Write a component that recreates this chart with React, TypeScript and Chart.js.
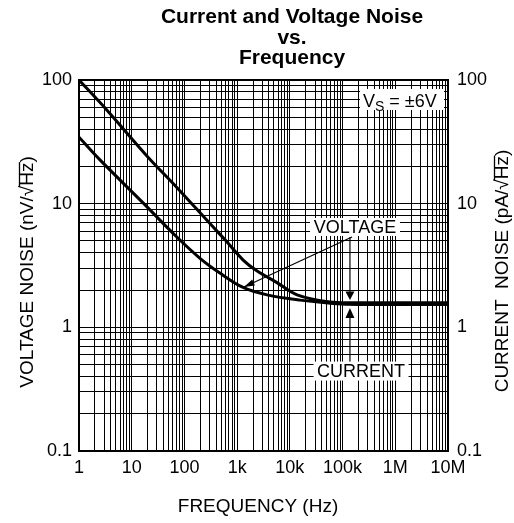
import React, { useEffect, useRef } from 'react';
import { Chart, registerables } from 'chart.js';

Chart.register(...registerables);

const titleLines = ['Current and Voltage Noise', 'vs.', 'Frequency'];
const xAxisTitle = 'FREQUENCY (Hz)';
const leftAxisTitle = ['VOLTAGE NOISE (nV/', '√', 'Hz', ')'];
const rightAxisTitle = ['CURRENT  NOISE (pA/', '√', 'Hz', ')'];

const xTickValues = [1, 10, 100, 1e3, 1e4, 1e5, 1e6, 1e7];
const xTickLabels = ['1', '10', '100', '1k', '10k', '100k', '1M', '10M'];
const yTickValues = [0.1, 1, 10, 100];
const yTickLabels = ['0.1', '1', '10', '100'];
const minorSteps = [2, 3, 4, 5, 6, 7, 8, 9];

// CURRENT noise (upper curve), pA/√Hz
const currentFreq = [1, 3.4, 20, 71, 305, 590, 1300, 2400, 5700, 13700, 58000, 200000, 1e7];
const currentNoise = [100, 57, 24, 13.6, 6.9, 5.1, 3.5, 2.85, 2.3, 1.83, 1.6, 1.58, 1.58];
// VOLTAGE noise (lower curve), nV/√Hz
const voltageFreq = [1, 2.5, 16.6, 71, 200, 470, 1300, 3700, 15600, 66000, 200000, 1e7];
const voltageNoise = [34.5, 22.6, 10.1, 5.4, 3.6, 2.75, 2.1, 1.83, 1.66, 1.56, 1.53, 1.53];

// annotation anchors (data coordinates)
const vsLabel = { text: ['V', 'S', ' = ±6V'], f: 2.14e5, v: 84.6 };
const voltageLabel = { text: 'VOLTAGE', f: 1.72e5, v: 6.48 };
const voltageArrow = { fromF: 1.51e5, fromV: 5.38, toF: 1350, toV: 2.12 };
const currentLabel = { text: 'CURRENT', f: 2.24e5, v: 0.443 };
const markerF = 1.38e5;
const markerDownV = [5.38, 1.664];
const markerUpV = [0.48, 1.433];

const FONT = 'Liberation Sans, Arial, Helvetica, sans-serif';

function buildLogTicks(values: number[]) {
  const out: { value: number; major: boolean }[] = [];
  for (let i = 0; i < values.length - 1; i++) {
    out.push({ value: values[i], major: true });
    for (const m of minorSteps) out.push({ value: values[i] * m, major: false });
  }
  out.push({ value: values[values.length - 1], major: true });
  return out;
}

function labelFor(values: number[], labels: string[], v: number) {
  for (let i = 0; i < values.length; i++) {
    if (Math.abs(Math.log10(values[i]) - Math.log10(v)) < 1e-6) return labels[i];
  }
  return '';
}

function drawBoxText(ctx: CanvasRenderingContext2D, text: string, cx: number, cy: number, w: number, h: number) {
  ctx.fillStyle = '#fff';
  ctx.fillRect(cx - w / 2, cy - h / 2, w, h);
  ctx.fillStyle = '#000';
  ctx.font = `18px ${FONT}`;
  ctx.textAlign = 'center';
  ctx.textBaseline = 'middle';
  ctx.fillText(text, cx, cy + 1);
}

function drawRotatedTitle(ctx: CanvasRenderingContext2D, parts: string[], cx: number, cy: number) {
  ctx.save();
  ctx.translate(cx, cy);
  ctx.rotate(-Math.PI / 2);
  ctx.font = `19px ${FONT}`;
  ctx.fillStyle = '#000';
  ctx.textBaseline = 'middle';
  ctx.textAlign = 'left';
  const widths = parts.map((p) => ctx.measureText(p).width);
  const total = widths.reduce((a, b) => a + b, 0);
  let x = -total / 2;
  const starts: number[] = [];
  parts.forEach((p, i) => {
    starts.push(x);
    ctx.fillText(p, x, 0);
    x += widths[i];
  });
  // overline of the radical over "Hz"
  ctx.strokeStyle = '#000';
  ctx.lineWidth = 1.3;
  ctx.beginPath();
  ctx.moveTo(starts[1] + widths[1] - 1, -8.5);
  ctx.lineTo(starts[2] + widths[2] + 0.5, -8.5);
  ctx.stroke();
  ctx.restore();
}

const overlayPlugin = {
  id: 'overlay',
  afterDatasetsDraw(chart: any) {
    const ctx: CanvasRenderingContext2D = chart.ctx;
    const xs = chart.scales.x;
    const ys = chart.scales.y;
    const X = (f: number) => xs.getPixelForValue(f);
    const Y = (v: number) => ys.getPixelForValue(v);
    ctx.save();

    // VS label
    {
      const left = X(vsLabel.f);
      const top = Y(vsLabel.v);
      ctx.fillStyle = '#fff';
      ctx.fillRect(left, top, 84, 21);
      ctx.fillStyle = '#000';
      ctx.textAlign = 'left';
      ctx.textBaseline = 'alphabetic';
      ctx.font = `18px ${FONT}`;
      let x = left + 3;
      const base = top + 18;
      ctx.fillText(vsLabel.text[0], x, base);
      x += ctx.measureText(vsLabel.text[0]).width;
      ctx.font = `14px ${FONT}`;
      ctx.fillText(vsLabel.text[1], x, base + 4);
      x += ctx.measureText(vsLabel.text[1]).width;
      ctx.font = `18px ${FONT}`;
      ctx.fillText(vsLabel.text[2], x, base);
    }

    ctx.strokeStyle = '#000';
    ctx.fillStyle = '#000';
    ctx.lineWidth = 1.2;

    // voltage arrow (diagonal)
    {
      const x1 = X(voltageArrow.fromF), y1 = Y(voltageArrow.fromV);
      const x2 = X(voltageArrow.toF), y2 = Y(voltageArrow.toV);
      ctx.beginPath();
      ctx.moveTo(x1, y1);
      ctx.lineTo(x2, y2);
      ctx.stroke();
      const ang = Math.atan2(y2 - y1, x2 - x1);
      const len = 11, spread = 0.3;
      ctx.beginPath();
      ctx.moveTo(x2 - len * Math.cos(ang - spread), y2 - len * Math.sin(ang - spread));
      ctx.lineTo(x2, y2);
      ctx.lineTo(x2 - len * Math.cos(ang + spread), y2 - len * Math.sin(ang + spread));
      ctx.closePath();
      ctx.fill();
    }

    // vertical markers pointing to the flat portion
    {
      const mx = X(markerF);
      const dTop = Y(markerDownV[0]);
      const dTip = Y(markerDownV[1]);
      ctx.beginPath();
      ctx.moveTo(mx, dTop);
      ctx.lineTo(mx, dTip - 6);
      ctx.stroke();
      ctx.beginPath();
      ctx.moveTo(mx - 4.5, dTip - 8.5);
      ctx.lineTo(mx + 4.5, dTip - 8.5);
      ctx.lineTo(mx, dTip);
      ctx.closePath();
      ctx.fill();

      const uBot = Y(markerUpV[0]);
      const uTip = Y(markerUpV[1]);
      ctx.beginPath();
      ctx.moveTo(mx, uBot);
      ctx.lineTo(mx, uTip + 6);
      ctx.stroke();
      ctx.beginPath();
      ctx.moveTo(mx - 4.5, uTip + 10);
      ctx.lineTo(mx + 4.5, uTip + 10);
      ctx.lineTo(mx, uTip);
      ctx.closePath();
      ctx.fill();
    }

    drawBoxText(ctx, voltageLabel.text, X(voltageLabel.f), Y(voltageLabel.v), 90, 18);
    drawBoxText(ctx, currentLabel.text, X(currentLabel.f), Y(currentLabel.v), 95, 19);

    ctx.restore();
  },
  afterDraw(chart: any) {
    const ctx: CanvasRenderingContext2D = chart.ctx;
    const ca = chart.chartArea;
    ctx.save();
    // plot frame
    ctx.strokeStyle = '#000';
    ctx.lineWidth = 2;
    ctx.strokeRect(ca.left, ca.top, ca.right - ca.left, ca.bottom - ca.top);

    // title
    ctx.fillStyle = '#000';
    ctx.textAlign = 'center';
    ctx.textBaseline = 'middle';
    ctx.font = `bold 21px ${FONT}`;
    const tys = [17, 38, 58];
    titleLines.forEach((t, i) => ctx.fillText(t, 292, tys[i]));

    // x axis title
    ctx.font = `19px ${FONT}`;
    ctx.fillText(xAxisTitle, 258, 507);

    drawRotatedTitle(ctx, leftAxisTitle, 28, 272);
    drawRotatedTitle(ctx, rightAxisTitle, 503, 271);
    ctx.restore();
  },
};

export default function App() {
  const ref = useRef<HTMLCanvasElement>(null);
  useEffect(() => {
    const canvas = ref.current;
    if (!canvas) return;
    const gridOpts = { color: '#000', lineWidth: 1, drawTicks: false };
    const tickFont = { family: FONT, size: 18 };
    const chart = new Chart(canvas, {
      type: 'line',
      data: {
        datasets: [
          {
            label: 'CURRENT',
            data: currentFreq.map((f, i) => ({ x: f, y: currentNoise[i] })),
            borderColor: '#000',
            borderWidth: 3,
            pointRadius: 0,
            tension: 0.35,
            fill: false,
          },
          {
            label: 'VOLTAGE',
            data: voltageFreq.map((f, i) => ({ x: f, y: voltageNoise[i] })),
            borderColor: '#000',
            borderWidth: 3,
            pointRadius: 0,
            tension: 0.35,
            fill: false,
          },
        ],
      },
      options: {
        animation: false,
        responsive: false,
        devicePixelRatio: 1,
        layout: { padding: { top: 80, left: 0, right: 0, bottom: 0 } },
        plugins: { legend: { display: false }, tooltip: { enabled: false }, title: { display: false } },
        scales: {
          x: {
            type: 'logarithmic',
            position: 'bottom',
            min: 1,
            max: 1e7,
            grid: gridOpts,
            border: { display: true, color: '#000', width: 2 },
            afterBuildTicks: (s: any) => { s.ticks = buildLogTicks(xTickValues); },
            afterFit: (s: any) => { s.height = 72; },
            ticks: {
              autoSkip: false,
              maxRotation: 0,
              minRotation: 0,
              padding: 6,
              color: '#000',
              font: tickFont,
              callback: (v: any) => labelFor(xTickValues, xTickLabels, Number(v)),
            },
          },
          y: {
            type: 'logarithmic',
            position: 'left',
            min: 0.1,
            max: 100,
            grid: gridOpts,
            border: { display: true, color: '#000', width: 2 },
            afterBuildTicks: (s: any) => { s.ticks = buildLogTicks(yTickValues); },
            afterFit: (s: any) => { s.width = 79; },
            ticks: {
              autoSkip: false,
              padding: 7,
              color: '#000',
              font: tickFont,
              callback: (v: any) => labelFor(yTickValues, yTickLabels, Number(v)),
            },
          },
          y2: {
            type: 'logarithmic',
            position: 'right',
            min: 0.1,
            max: 100,
            grid: { display: false, drawTicks: false },
            border: { display: true, color: '#000', width: 2 },
            afterBuildTicks: (s: any) => { s.ticks = buildLogTicks(yTickValues); },
            afterFit: (s: any) => { s.width = 66; },
            ticks: {
              autoSkip: false,
              padding: 9,
              color: '#000',
              font: tickFont,
              callback: (v: any) => labelFor(yTickValues, yTickLabels, Number(v)),
            },
          },
        },
      },
      plugins: [overlayPlugin],
    } as any);
    return () => chart.destroy();
  }, []);
  return (
    <div style={{ position: 'absolute', left: 0, top: 0, width: 514, height: 523, background: '#fff' }}>
      <canvas ref={ref} width={514} height={523} style={{ display: 'block', width: 514, height: 523 }} />
    </div>
  );
}
